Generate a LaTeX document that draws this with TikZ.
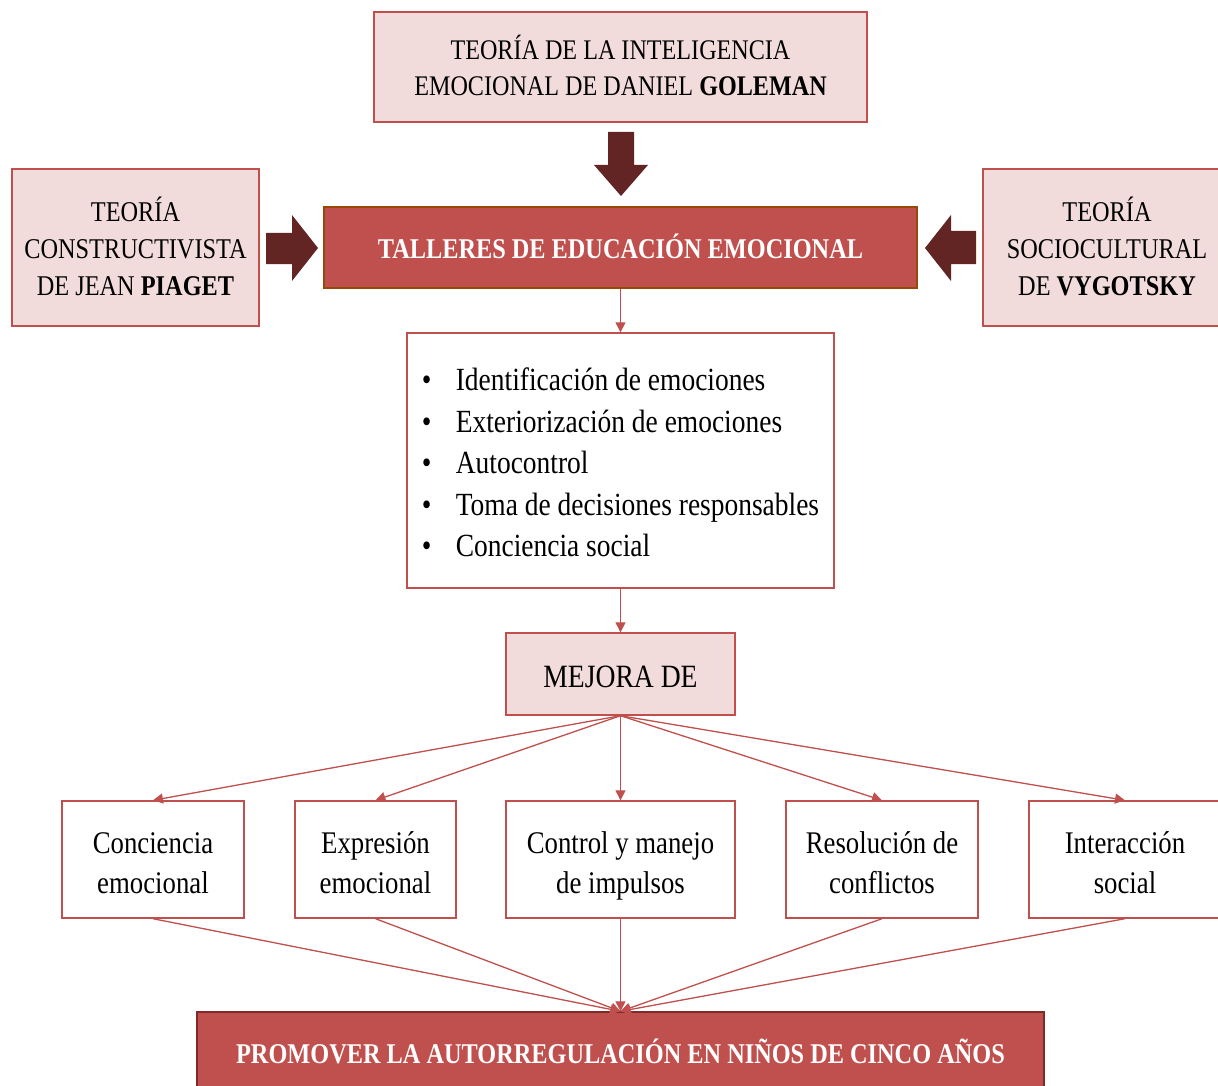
\documentclass[tikz,border=0pt]{standalone}
\usepackage{fontspec}
\setmainfont{Liberation Serif}[FakeStretch=0.85]
\usetikzlibrary{arrows.meta}
\definecolor{pinkfill}{HTML}{F2DCDB}
\definecolor{redline}{HTML}{C0504D}
\definecolor{darkarrow}{HTML}{632523}
\definecolor{tallerborder}{HTML}{984807}
\definecolor{bottomborder}{HTML}{7F2A28}
\newcommand\ftheory{\fontsize{28.4}{36}\selectfont}
\newcommand\fside{\fontsize{28.6}{37}\selectfont}
\newcommand\ftitle{\fontsize{28.6}{36}\selectfont}
\newcommand\flist{\fontsize{32.3}{41.5}\selectfont}
\newcommand\fsmallbox{\fontsize{31.5}{40}\selectfont}
\newcommand\fmejora{\fontsize{32.5}{40}\selectfont}
% invisible strut: height #1, depth #2
\newcommand\bs[2]{\rule[-#2pt]{0pt}{\dimexpr#1pt+#2pt\relax}}
\tikzset{
  pinkbox/.style={draw=redline, fill=pinkfill, line width=1.4pt, inner sep=0pt, align=center, text=black},
  whitebox/.style={draw=redline, fill=white, line width=1.4pt, inner sep=0pt, align=center, text=black},
  titlebox/.style={fill=redline, line width=1.4pt, inner sep=0pt, align=center, text=white, font=\ftitle\bfseries},
  conn/.style={draw=redline, line width=1.3pt, -{Triangle[length=10pt,width=10pt]}},
  blockarrow/.style={fill=darkarrow, draw=none}
}
\begin{document}
\begin{tikzpicture}[x=1pt,y=-1pt]
\clip (0,0) rectangle (1218,1086);
\fill[white] (0,0) rectangle (1218,1086);

% top theory box
\node[pinkbox, minimum width=493pt, minimum height=110pt, font=\ftheory] (gol) at (620.5,67)
  {\bs{28}{0}TEORÍA DE LA INTELIGENCIA\\\bs{0}{7.4}EMOCIONAL DE DANIEL \textbf{GOLEMAN}};
% side theory boxes
\node[pinkbox, minimum width=247pt, minimum height=157pt, font=\fside] (pia) at (135.5,247.5)
  {\bs{29}{0}TEORÍA\\CONSTRUCTIVISTA\\\bs{0}{7.5}DE JEAN \textbf{PIAGET}};
\node[pinkbox, minimum width=248pt, minimum height=157pt, font=\fside] (vyg) at (1107,247.5)
  {\bs{29}{0}TEORÍA\\SOCIOCULTURAL\\\bs{0}{7.5}DE \textbf{VYGOTSKY}};
% central title
\node[titlebox, draw=tallerborder, minimum width=593pt, minimum height=81pt] (tal) at (620.5,247.5)
  {\bs{29}{7.4}TALLERES DE EDUCACIÓN EMOCIONAL};
% list box
\node[whitebox, align=left, minimum width=427pt, minimum height=255pt, font=\flist] (lst) at (620.5,460.5)
  {\bs{33}{0}\makebox[34pt][l]{•}Identificación de emociones\\
   \makebox[34pt][l]{•}Exteriorización de emociones\\
   \makebox[34pt][l]{•}Autocontrol\\
   \makebox[34pt][l]{•}Toma de decisiones responsables\hspace*{11pt}\\
   \bs{0}{6.8}\makebox[34pt][l]{•}Conciencia social};
% mejora
\node[pinkbox, minimum width=229pt, minimum height=82pt, font=\fmejora] (mej) at (620.5,674) {\bs{34}{6.5}MEJORA DE};
% five boxes
\node[whitebox, minimum width=182pt, minimum height=117pt, font=\fsmallbox] (b1) at (153,859.5) {\bs{36}{0}Conciencia\\\bs{0}{8}emocional};
\node[whitebox, minimum width=161pt, minimum height=117pt, font=\fsmallbox] (b2) at (375.5,859.5) {\bs{36}{0}Expresión\\\bs{0}{8}emocional};
\node[whitebox, minimum width=229pt, minimum height=117pt, font=\fsmallbox] (b3) at (620.5,859.5) {\bs{36}{0}Control y manejo\\\bs{0}{8}de impulsos};
\node[whitebox, minimum width=192pt, minimum height=117pt, font=\fsmallbox] (b4) at (882,859.5) {\bs{36}{0}Resolución de\\\bs{0}{8}conflictos};
\node[whitebox, minimum width=192pt, minimum height=117pt, font=\fsmallbox] (b5) at (1125,859.5) {\bs{36}{0}Interacción\\\bs{0}{8}social};
% bottom title
\node[titlebox, draw=bottomborder, minimum width=847pt, minimum height=84pt] (pro) at (620.5,1054)
  {\bs{27}{8.4}PROMOVER LA AUTORREGULACIÓN EN NIÑOS DE CINCO AÑOS};

% block arrows
\fill[blockarrow] (608,132) -- (634,132) -- (634,165) -- (648,165) -- (621,196) -- (594,165) -- (608,165) -- cycle;
\fill[blockarrow] (266,233) -- (292,233) -- (292,215) -- (318,248) -- (292,281) -- (292,264) -- (266,264) -- cycle;
\fill[blockarrow] (976,231) -- (951,231) -- (951,215) -- (925,248) -- (951,281) -- (951,264) -- (976,264) -- cycle;

% connectors
\draw[conn] (tal.south) -- (lst.north);
\draw[conn] (lst.south) -- (mej.north);
\foreach \b in {b1,b2,b3,b4,b5}{
  \draw[conn] (mej.south) -- (\b.north);
  \draw[conn] (\b.south) -- (pro.north);
}
\end{tikzpicture}
\end{document}
